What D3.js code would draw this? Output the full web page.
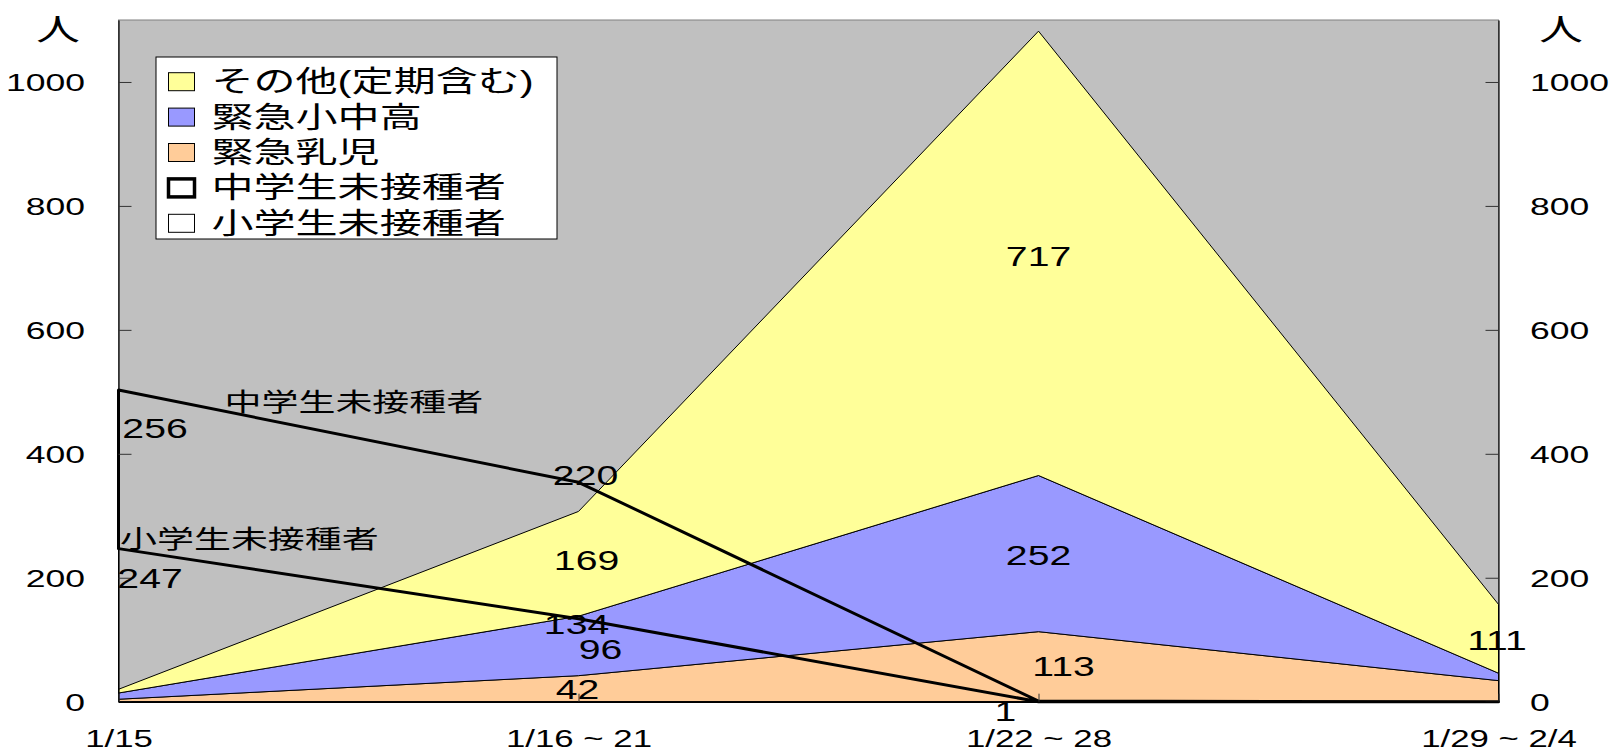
<!DOCTYPE html>
<html>
<head>
<meta charset="utf-8">
<script src="https://cdn.jsdelivr.net/npm/d3@7/dist/d3.min.js"></script>
<style>
  html, body { margin: 0; padding: 0; background: #ffffff; }
  svg { display: block; }
  text { font-family: "Liberation Sans", "Noto Sans CJK JP", sans-serif; fill: #000; }
</style>
</head>
<body>
<svg id="chart" width="1610" height="751"></svg>
<script>
// ---- data ----
const categories = ["1/15", "1/16 ~ 21", "1/22 ~ 28", "1/29 ~ 2/4"];
const nyuji      = [4, 42, 113, 34];     // 緊急乳児
const shochuko   = [10, 96, 252, 12];    // 緊急小中高
const sonota     = [6, 169, 717, 111];   // その他(定期含む)
const shogakusei = [247, 134, 0, 0];     // 小学生未接種者
const chugakusei = [256, 220, 1, 0];     // 中学生未接種者
const yTicks     = [0, 200, 400, 600, 800, 1000];
const unitLabel  = "人";
const seriesNames = ["その他(定期含む)", "緊急小中高", "緊急乳児", "中学生未接種者", "小学生未接種者"];

// ---- layout ----
const SX = 1.45;               // horizontal stretch of the original's text
const L = 118.5, R = 1498.5, T = 20, B = 701.7;
const svg = d3.select("#chart");

const x = d3.scalePoint().domain(categories).range([L, R]);
const y = d3.scaleLinear().domain([0, 1100]).range([B, T]);

function txt(parent, px, py, s, size, anchor = "start", dy = "0.358em") {
  return parent.append("text")
    .attr("transform", `translate(${px},${py}) scale(${SX},1)`)
    .attr("text-anchor", anchor)
    .attr("dy", dy)
    .style("font-size", size + "px")
    .text(s);
}

// plot background
svg.append("rect").attr("x", L).attr("y", T).attr("width", R - L).attr("height", B - T)
  .attr("fill", "#C0C0C0").attr("stroke", "#808080").attr("stroke-width", 1);

// ---- stacked areas ----
const rows = categories.map((c, i) => ({ cat: c, nyuji: nyuji[i], shochuko: shochuko[i], sonota: sonota[i] }));
const keys = ["nyuji", "shochuko", "sonota"];
const colors = { nyuji: "#FFCC99", shochuko: "#9999FF", sonota: "#FFFF99" };
const stacked = d3.stack().keys(keys)(rows);
const area = d3.area().x(d => x(d.data.cat)).y0(d => y(d[0])).y1(d => y(d[1]));

svg.append("g").selectAll("path").data(stacked).join("path")
  .attr("d", area)
  .attr("fill", d => colors[d.key])
  .attr("stroke", "#000").attr("stroke-width", 1).attr("stroke-linejoin", "round");

// ---- stacked "line" areas (unfilled) ----
const lrows = categories.map((c, i) => ({ cat: c, sho: shogakusei[i], chu: chugakusei[i] }));
const lstack = d3.stack().keys(["sho", "chu"])(lrows);
svg.append("path").datum(lstack[0]).attr("d", area)
  .attr("fill", "none").attr("stroke", "#000").attr("stroke-width", 1);
svg.append("path").datum(lstack[1]).attr("d", area)
  .attr("fill", "none").attr("stroke", "#000").attr("stroke-width", 3).attr("stroke-linejoin", "round");

// ---- axes ----
const fs = 24.5;
const fmt = d3.format("d");
const gl = svg.append("g").attr("transform", `translate(${L},0)`)
  .call(d3.axisLeft(y).tickValues(yTicks).tickFormat(fmt).tickSize(-13).tickSizeOuter(0).tickPadding(33.5));
const gr = svg.append("g").attr("transform", `translate(${R},0)`)
  .call(d3.axisRight(y).tickValues(yTicks).tickFormat(fmt).tickSize(-13).tickSizeOuter(0).tickPadding(31.5));
[gl, gr].forEach(g => {
  g.select(".domain").attr("stroke", "#000").attr("stroke-width", 1.2);
  g.selectAll(".tick line").attr("stroke", "#333").attr("stroke-width", 1);
  g.selectAll(".tick text").each(function () {
    const t = d3.select(this);
    const xx = +t.attr("x");
    t.attr("x", xx / SX).attr("transform", `scale(${SX},1)`).attr("dy", "0.358em")
     .style("font-size", fs + "px").attr("fill", "#000")
     .style("font-family", '"Liberation Sans", sans-serif');
  });
});
const gb = svg.append("g").attr("transform", `translate(0,${B})`)
  .call(d3.axisBottom(x).tickSize(-8).tickSizeOuter(0));
gb.select(".domain").attr("stroke", "#000").attr("stroke-width", 1.5);
gb.selectAll(".tick line").attr("stroke", "#333");
gb.selectAll(".tick text").attr("y", 45.3).attr("dy", 0)
  .attr("transform", `scale(${SX},1)`).style("font-size", "24px").attr("fill", "#000")
  .style("font-family", '"Liberation Sans", "Noto Sans CJK JP", sans-serif');

// unit labels
txt(svg, 58, 29, unitLabel, 30, "middle", "0.36em");
txt(svg, 1561, 29, unitLabel, 30, "middle", "0.36em");

// ---- data labels ----
const dl = 27;
const lab = svg.append("g");
function areaLabel(si, i, dx, dy) {
  const d = stacked[si][i];
  txt(lab, x(categories[i]) + dx, y((d[0] + d[1]) / 2) + dy, String(d[1] - d[0]), dl, "middle");
}
areaLabel(0, 1, -1, 1);
areaLabel(1, 1, 22, 3);
areaLabel(2, 1, 8, -3);
areaLabel(0, 2, 25, 0);
areaLabel(1, 2, 0, 2);
areaLabel(2, 2, 0, 3);
areaLabel(2, 3, -1.5, 2);

function lineLabel(si, i, dx, dy) {
  const d = lstack[si][i];
  txt(lab, x(categories[i]) + dx, y(d[1]) + dy, String(d[1] - d[0]), dl, "middle");
}
lineLabel(1, 0, 36.5, 38);
lineLabel(0, 0, 31.5, 30);
lineLabel(1, 1, 7, -6.5);
lineLabel(0, 1, -2, 6);
lineLabel(1, 2, -33, 10);

// series name labels
txt(lab, x(categories[0]) + 106, y(lstack[1][0][1]) + 12, seriesNames[3], 25.5, "start", "0.36em");
txt(lab, x(categories[0]) + 1.5, y(lstack[0][0][1]) - 10, seriesNames[4], 25.5, "start", "0.36em");

// ---- legend ----
const lg = svg.append("g");
lg.append("rect").attr("x", 156).attr("y", 57).attr("width", 401).attr("height", 182)
  .attr("fill", "#fff").attr("stroke", "#000").attr("stroke-width", 1);
const legendItems = [
  { fill: colors.sonota, sw: 1 },
  { fill: colors.shochuko, sw: 1 },
  { fill: colors.nyuji, sw: 1 },
  { fill: "#fff", sw: 3.5 },
  { fill: "#fff", sw: 1 }
];
legendItems.forEach((it, i) => {
  const cy = 81.7 + i * 35.4;
  lg.append("rect").attr("x", 168.5).attr("y", cy - 9).attr("width", 26).attr("height", 18)
    .attr("fill", it.fill).attr("stroke", "#000").attr("stroke-width", it.sw);
  txt(lg, 211.5, cy, seriesNames[i], 29, "start", "0.36em");
});
</script>
</body>
</html>
